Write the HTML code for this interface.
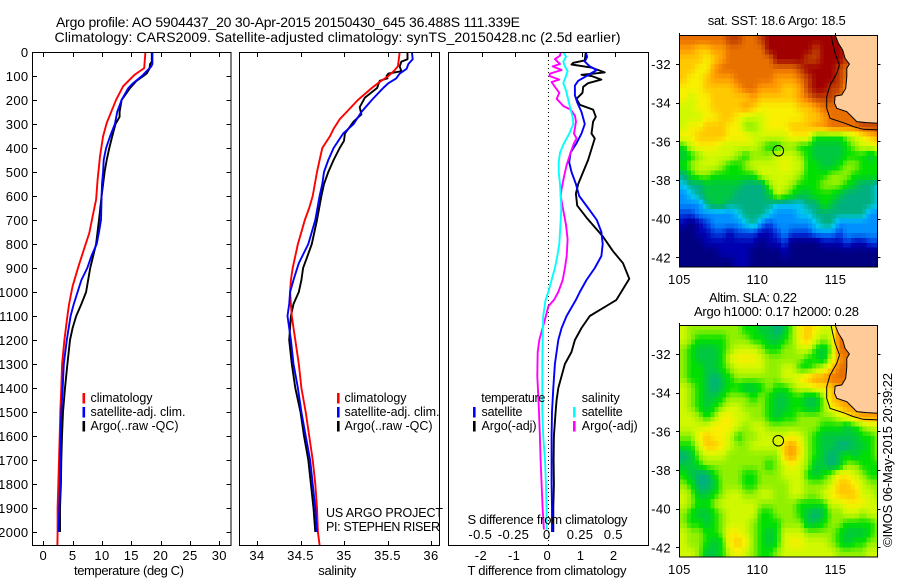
<!DOCTYPE html>
<html lang="en">
<head>
<meta charset="utf-8">
<title>Argo profile 5904437_20</title>
<style>
html,body{margin:0;padding:0;background:#fff;width:900px;height:580px;overflow:hidden}
svg{display:block}
text{font-family:"Liberation Sans",sans-serif;font-size:13px;fill:#000}
.l{font-size:12.5px}
.t{font-size:14px}
.n{letter-spacing:.35px}
</style>
</head>
<body>
<svg id="chart" xmlns="http://www.w3.org/2000/svg" width="900" height="580" viewBox="0 0 900 580">
<rect x="0" y="0" width="900" height="580" fill="#fff"/>
<defs>
<clipPath id="clip-p1"><rect x="32.5" y="52" width="199" height="493.5"/></clipPath>
<clipPath id="clip-p2"><rect x="239.5" y="52" width="200" height="493.5"/></clipPath>
<clipPath id="clip-p3"><rect x="448.5" y="52" width="200" height="493.5"/></clipPath>
<clipPath id="clip-m1"><rect x="679.5" y="35" width="198.5" height="232"/></clipPath>
<clipPath id="clip-m2"><rect x="679.5" y="325" width="198.5" height="232"/></clipPath>
</defs>
<text class="t" x="56" y="27" textLength="464">Argo profile: AO 5904437_20 30-Apr-2015 20150430_645 36.488S 111.339E</text>
<text class="t" x="54.5" y="42" textLength="566">Climatology: CARS2009. Satellite-adjusted climatology: synTS_20150428.nc (2.5d earlier)</text>

<g id="p1"></g>
<g id="p2"></g>
<g id="p3"></g>
<g id="m1"></g>
<g id="m2"></g>

<g>
<rect x="82.5" y="393" width="2.6" height="10.5" fill="#f00"/>
<text class="l" x="90.5" y="402" textLength="62">climatology</text>
<rect x="82.5" y="407" width="2.6" height="10.5" fill="#00f"/>
<text class="l" x="90.5" y="416" textLength="95">satellite-adj. clim.</text>
<rect x="82.5" y="421" width="2.6" height="10.5" fill="#000"/>
<text class="l" x="90.5" y="430" textLength="88">Argo(..raw -QC)</text>
</g>
<g>
<rect x="337" y="393" width="2.6" height="10.5" fill="#f00"/>
<text class="l" x="344.5" y="402" textLength="62">climatology</text>
<rect x="337" y="407" width="2.6" height="10.5" fill="#00f"/>
<text class="l" x="344.5" y="416" textLength="95">satellite-adj. clim.</text>
<rect x="337" y="421" width="2.6" height="10.5" fill="#000"/>
<text class="l" x="344.5" y="430" textLength="88">Argo(..raw -QC)</text>
</g>
<text class="l" x="326" y="517" textLength="117">US ARGO PROJECT</text>
<text class="l" x="326" y="531" textLength="114">PI: STEPHEN RISER</text>

<g>
<text class="l" x="481.3" y="402" textLength="64">temperature</text>
<rect x="473" y="407" width="2.6" height="10.5" fill="#00f"/>
<text class="l" x="481.5" y="416" textLength="41">satellite</text>
<rect x="473" y="421" width="2.6" height="10.5" fill="#000"/>
<text class="l" x="481.5" y="430" textLength="55">Argo(-adj)</text>
<text class="l" x="581.7" y="402" textLength="38">salinity</text>
<rect x="573" y="407" width="2.6" height="10.5" fill="#0ff"/>
<text class="l" x="581.7" y="416" textLength="41">satellite</text>
<rect x="573" y="421" width="2.6" height="10.5" fill="#f0f"/>
<text class="l" x="581.7" y="430" textLength="56">Argo(-adj)</text>
</g>

<text x="129" y="575" text-anchor="middle" textLength="110">temperature (deg C)</text>
<text x="337.3" y="575" text-anchor="middle" textLength="38">salinity</text>
<text x="547" y="575" text-anchor="middle" textLength="159">T difference from climatology</text>
<text x="467.5" y="524" textLength="160">S difference from climatology</text>

<text x="707.7" y="25" textLength="138">sat. SST: 18.6 Argo: 18.5</text>
<text x="709" y="302" textLength="88">Altim. SLA: 0.22</text>
<text x="694" y="316" textLength="165">Argo h1000: 0.17 h2000: 0.28</text>
<text transform="translate(892,547) rotate(-90)" textLength="174">©IMOS 06-May-2015 20:39:22</text>
</svg>

<script>
/* ---------- profile data ---------- */
const tClimDepth = [0,67,94,143,199,296,351,435,532,615,685,754,824,893,976,1050,1100,1200,1300,1400,1500,1600,1700,1800,1900,2000,2055];
const tClimValue = [17.4,17.2,15.6,13.6,12.4,10.8,10.2,9.66,9.26,9.0,8.4,7.84,6.9,6.0,5.0,4.4,4.1,3.6,3.2,3.07,2.9,2.8,2.67,2.56,2.44,2.44,2.4];
const tSatDepth = [0,50,60,80,100,130,150,200,250,300,350,400,450,500,550,600,700,750,800,850,900,950,1000,1050,1100,1200,1300,1400,1500,1600,1700,1800,1900,2000];
const tSatValue = [18.6,18.6,18.4,17.6,16.8,15.3,14.5,13.35,12.6,12.2,11.4,10.7,10.3,10.2,10,9.94,9.83,9.5,9.1,8.2,7.5,6.5,5.85,5.2,4.66,4,3.5,3.3,3.07,2.95,2.9,2.84,2.73,2.6];
const tArgoDepth = [0,40,50,70,90,120,150,200,250,270,300,350,400,450,500,550,600,700,800,900,1000,1050,1100,1150,1200,1300,1400,1500,1600,1700,1800,1900,2000];
const tArgoValue = [18.5,18.5,18.2,18.1,17.6,15.9,14.8,13.35,13,13,12.3,11.76,11.25,10.8,10.45,10.2,9.94,9.5,9,8,7.3,6.5,5.6,5,4.55,4.1,3.7,3.35,3.18,3.07,3,2.84,2.84];

const sClimDepth = [0,30,60,80,100,130,150,200,250,280,320,350,400,450,500,600,650,700,750,800,850,900,950,1000,1050,1100,1150,1200,1300,1400,1500,1600,1700,1800,1900,2000,2055];
const sClimValue = [35.64,35.63,35.62,35.57,35.51,35.39,35.32,35.16,35.03,34.95,34.88,34.84,34.75,34.72,34.69,34.64,34.6,34.55,34.51,34.47,34.44,34.41,34.39,34.38,34.39,34.4,34.42,34.44,34.48,34.51,34.56,34.6,34.64,34.67,34.69,34.7,34.72];
const sSatDepth = [0,30,50,70,90,110,130,150,200,250,300,340,400,450,500,550,600,700,800,880,950,1000,1050,1100,1150,1200,1300,1400,1500,1600,1700,1800,1900,2000];
const sSatValue = [35.78,35.79,35.74,35.72,35.64,35.6,35.51,35.45,35.32,35.2,35.11,34.99,34.88,34.82,34.77,34.75,34.72,34.67,34.59,34.48,34.42,34.38,34.37,34.35,34.37,34.39,34.42,34.47,34.51,34.56,34.61,34.64,34.67,34.69];
const sArgoDepth = [0,30,40,60,80,90,100,110,120,150,190,230,260,290,340,370,400,450,500,550,600,700,800,850,900,950,1000,1050,1100,1200,1300,1400,1500,1600,1700,1800,1900,2000];
const sArgoValue = [35.73,35.73,35.66,35.64,35.66,35.51,35.49,35.5,35.41,35.38,35.24,35.18,35.2,35.11,35.01,35,34.95,34.88,34.82,34.77,34.74,34.69,34.63,34.58,34.53,34.51,34.48,34.42,34.39,34.37,34.4,34.44,34.5,34.54,34.59,34.62,34.65,34.67];

const dtSatDepth = [0,20,40,60,75,100,120,140,180,210,250,300,340,380,420,460,500,550,600,650,700,750,800,850,900,950,1000,1033,1100,1150,1200,1300,1400,1500,1600,1700,1800,1900,2000];
const dtSatValue = [1.13,1.17,1.1,1.25,1.46,1.15,0.9,0.8,0.8,0.87,1.0,1.1,1.0,0.85,0.67,0.63,0.7,0.83,0.93,1.2,1.46,1.6,1.64,1.6,1.4,1.15,0.95,0.83,0.55,0.4,0.3,0.2,0.15,0.11,0.1,0.1,0.1,0.11,0.11];
const dtArgoDepth = [0,35,45,52,65,85,95,100,115,130,145,170,195,220,240,270,290,340,360,450,550,590,640,690,770,830,880,945,1033,1050,1100,1150,1200,1250,1300,1350,1400,1450,1500,1600,1700,1800,1900,2000];
const dtArgoValue = [1.13,1.1,0.75,0.7,1.3,1.7,1.0,1.3,1.6,1.2,1.05,1.03,0.85,0.95,1.35,1.43,1.35,1.3,1.4,1.2,0.9,0.83,0.87,1.15,1.65,1.95,2.25,2.44,2.05,1.85,1.25,1.0,0.8,0.7,0.5,0.4,0.3,0.25,0.22,0.17,0.16,0.17,0.15,0.15];
const dsSatDepth = [0,20,40,60,80,100,130,160,200,240,270,300,340,380,420,460,500,550,600,650,700,800,850,900,950,1000,1033,1100,1200,1300,1400,1500,1600,1700,1800,1900,1990];
const dsSatValue = [0.113,0.133,0.113,0.125,0.145,0.133,0.113,0.133,0.15,0.168,0.183,0.188,0.158,0.118,0.088,0.078,0.078,0.088,0.093,0.098,0.093,0.083,0.068,0.05,0.025,0,-0.02,-0.038,-0.043,-0.045,-0.045,-0.045,-0.038,-0.025,-0.018,-0.013,-0.013];
const dsArgoDepth = [0,15,30,50,60,75,90,100,115,125,145,170,195,225,240,265,290,340,360,380,420,470,520,570,600,660,720,780,850,900,950,1000,1033,1060,1100,1200,1250,1350,1400,1500,1600,1700,1800,1900,1990];
const dsArgoValue = [0.093,0.088,0.05,0.088,0.033,0.1,0.013,0.008,0.083,0.025,0.05,0.083,0.063,0.113,0.168,0.2,0.208,0.193,0.213,0.193,0.168,0.138,0.118,0.1,0.093,0.113,0.133,0.145,0.138,0.125,0.108,0.075,0.043,0,-0.018,-0.068,-0.08,-0.083,-0.078,-0.07,-0.063,-0.058,-0.05,-0.043,-0.033];

/* ---------- tick labels ---------- */
const depthTicks = [0,100,200,300,400,500,600,700,800,900,1000,1100,1200,1300,1400,1500,1600,1700,1800,1900,2000];
const tempTicks = [0,5,10,15,20,25,30];
const salTicks = [34,34.5,35,35.5,36];
const dtTicks = [-2,-1,0,1,2];
const dsTicks = [-0.5,-0.25,0,0.25,0.5];
const lonTicks = [105,110,115];
const latTicks = [-32,-34,-36,-38,-40,-42];

/* ---------- map data (levels on the colour scale, 0.5 degree cells) ---------- */
const scaleColors = ['#000080','#0000b0','#0040e0','#0090ff','#00c8f0','#00b080','#00c840','#00e000','#90f000','#d0f800','#f8f000','#ffc800','#ff9c00','#e87000','#c04000','#a00000'];
const sstGrid = [
[13,13,13,13,13,13,14,14,13,13,14,15,15,15,15,15,15,15,15,15,15,14],
[12,12,11,11,12,12,13,13,13,13,13,15,15,15,15,15,15,14,15,15,15,14],
[11,11,11,10,11,12,13,13,13,13,13,13,15,15,15,15,14,14,15,15,15,14],
[11,11,10,10,12,13,13,13,13,13,13,13,13,13,13,14,15,15,15,15,14,13],
[11,10,10,11,12,12,12,13,13,13,13,13,12,12,12,13,14,15,15,15,14,13],
[10,10,10,11,11,11,11,12,13,13,12,12,12,11,11,12,14,15,15,14,14,12,11],
[10,9,10,10,11,11,11,11,11,12,11,11,11,11,11,12,13,14,14,14,13,12,12],
[9,9,10,10,11,11,11,11,12,11,10,10,10,10,10,11,11,12,13,13,13,13,13,13,13,13],
[9,9,9,10,10,11,11,10,9,9,9,10,10,10,10,10,11,11,12,13,13,13,13,13,13,13],
[9,10,10,11,11,11,10,10,8,8,9,10,10,10,11,11,11,12,12,13,13,13,13,14,14,14],
[10,10,11,11,11,11,10,10,10,9,9,9,9,9,10,10,10,7,7,7,7,8,9,10,11,12],
[7,9,10,10,10,9,9,9,9,9,8,7,7,8,8,7,7,6,6,6,6,7,8,9,9,10],
[6,7,8,9,9,9,9,8,7,8,8,8,9,9,9,8,7,6,6,6,6,7,7,7,6,7],
[7,8,9,9,9,8,7,7,8,9,9,9,9,10,9,9,7,7,6,6,7,8,8,7,7,7],
[5,7,8,8,7,7,7,7,7,7,9,9,9,9,9,8,7,7,7,8,8,8,7,7,7,7],
[4,5,5,6,6,6,6,6,5,5,5,8,9,9,8,7,7,7,8,8,8,7,6,5,5,4],
[3,4,5,6,6,6,6,5,5,5,5,6,9,8,7,6,6,7,7,7,6,5,5,5,5,4],
[3,3,3,5,6,6,5,5,5,5,5,5,4,4,4,4,5,5,7,6,5,5,5,5,5,4],
[2,2,3,3,3,3,3,4,5,5,5,4,3,3,3,4,4,5,5,5,5,5,5,5,3,3],
[1,0,1,2,3,3,3,3,4,5,3,2,3,3,3,3,3,4,5,5,3,3,3,3,3,3],
[0,0,1,1,2,2,1,2,2,2,1,1,2,3,2,2,2,3,3,3,2,3,3,3,3,3],
[0,0,0,1,1,1,1,1,1,1,0,1,1,2,0,0,0,0,1,1,1,2,1,1,2,2],
[0,0,0,0,0,1,1,1,1,0,0,0,0,1,0,0,0,0,0,0,0,0,0,0,0,0],
[0,0,0,0,0,0,0,1,1,0,0,0,0,0,0,0,0,0,0,0,0,0,0,0,0,0]
];
const slaGrid = [
[9,8,8,8,8,8,8,8,7,7,6,6,5,6,8,10,11,10,9,9,13,13,13],
[9,8,7,7,7,7,8,8,8,7,7,6,6,7,8,10,11,9,8,9,13,13,13],
[8,7,6,6,6,7,8,9,9,9,8,7,7,8,8,9,9,7,6,8,13,13,13],
[8,7,6,6,6,7,9,10,10,10,9,8,8,8,8,8,7,7,6,9,12,13,13],
[8,7,7,6,6,7,8,9,9,9,9,8,8,9,9,7,7,8,9,11,13,13,13],
[8,7,7,6,5,6,7,8,8,8,8,8,8,9,9,10,11,12,12,13,13,13,13],
[9,8,7,6,5,6,7,7,6,6,7,8,7,7,8,9,9,10,10,11,12,12,12],
[9,8,7,6,6,7,8,8,8,7,8,7,6,6,7,7,6,6,8,11,12,12,12,12],
[9,8,7,6,7,8,9,9,8,8,8,7,6,6,7,7,6,6,8,10,11,12,12,12,12,12],
[9,9,8,7,8,10,10,9,9,8,8,7,6,7,7,8,8,8,8,8,9,10,11,12,12,12],
[9,9,9,9,10,10,10,9,8,9,9,8,8,8,8,8,8,8,7,7,7,6,7,8,9,9],
[8,8,10,11,10,10,9,7,8,8,9,9,9,9,10,9,8,7,6,6,6,6,6,7,7,8],
[7,7,9,11,11,10,9,8,8,9,9,9,9,11,12,10,8,7,6,6,5,5,6,6,7,8],
[5,6,8,9,9,9,8,8,8,8,8,8,8,11,12,10,8,7,6,5,6,7,6,7,7,8],
[6,6,7,8,8,8,8,8,8,8,8,7,8,9,10,9,8,6,6,5,6,8,8,7,7,7],
[7,6,5,5,7,8,8,8,7,7,8,8,8,9,9,9,7,6,7,8,10,10,9,8,7,7],
[8,7,5,5,6,8,8,8,7,7,8,8,8,8,9,9,8,8,8,9,11,11,10,9,8,8],
[9,8,6,6,7,8,9,9,8,8,9,9,8,8,9,9,8,8,9,10,11,11,11,9,9,8],
[9,8,7,7,8,9,9,9,9,9,8,8,8,8,8,7,7,7,7,9,9,10,10,10,9,9],
[8,7,6,6,7,8,9,9,9,9,7,7,8,8,8,7,6,5,6,8,8,9,9,8,9,9],
[8,7,7,6,7,8,9,9,9,8,7,7,7,8,8,8,6,6,7,8,8,7,7,7,7,8],
[9,8,8,7,7,8,10,10,9,8,7,6,7,9,9,9,8,8,8,8,7,6,6,6,7,8],
[9,8,8,7,6,7,10,11,10,8,7,6,7,9,10,10,9,9,9,8,7,6,7,7,8,8],
[9,9,8,6,6,7,9,10,9,8,7,7,8,9,9,9,9,9,9,9,8,8,8,8,9,9]
];
const landLon = [114.98,115.19,115.47,115.62,115.9,115.73,115.73,115.66,115.41,114.98,114.94,115.09,115.73,116.05,116.37,117.0,117.8,117.8,114.98];
const landLat = [-30.5,-30.93,-31.28,-31.71,-32,-32.22,-32.66,-33.26,-33.6,-33.66,-34.03,-34.29,-34.47,-34.72,-34.98,-35.03,-35.07,-30.5,-30.5];
const contourLon = [114.72,114.83,114.98,115.26,115.09,114.66,114.44,114.44,114.66,115.62,116.15,116.79,117.8];
const contourLat = [-30.5,-30.93,-31.45,-32.05,-32.48,-33.09,-33.69,-34.29,-34.81,-35.07,-35.24,-35.38,-35.41];
const floatLon = 111.339;
const floatLat = -36.488;

/* ---------- axis functions ---------- */
const NS = 'http://www.w3.org/2000/svg';
const yDepth = d => 52 + d * 0.24;
const xTemp = v => 43.3 + v * 5.867;
const xSal = v => 257 + (v - 34) * 87;
const xDT = v => 548.3 + v * 33.2;
const xDS = v => 548.3 + v * 133;
const xLon = v => 679.4 + (v - 105) * 15.6;
const yLat = (v, top) => top + (-30.5 - v) * 19.33;

function el(parent, tag, attrs, txt) {
  const n = document.createElementNS(NS, tag);
  for (const k in attrs) n.setAttribute(k, attrs[k]);
  if (txt !== undefined) n.textContent = txt;
  parent.appendChild(n);
  return n;
}
function tickLine(parent, x1, y1, x2, y2) {
  const n = el(parent, 'line', {x1, y1, x2, y2, stroke: '#000', 'stroke-width': 1, 'shape-rendering': 'crispEdges'});
  
  
}
function tickText(parent, x, y, anchor, s) {
  const n = el(parent, 'text', {x, y, 'text-anchor': anchor, class: 'n'}, s);
  
  
}
function frame(parent, x, y, w, h) {
  const n = el(parent, 'rect', {x, y, width: w, height: h, fill: 'none', stroke: '#000', 'stroke-width': 1, 'shape-rendering': 'crispEdges'});
  
  
}
function profile(parent, xf, depth, vals, color, name, clip) {
  const pts = depth.map((d, i) => xf(vals[i]).toFixed(1) + ',' + yDepth(d).toFixed(1)).join(' ');
  const n = el(parent, 'polyline', {points: pts, fill: 'none', stroke: color, 'stroke-width': 1.9, 'stroke-linejoin': 'round', 'clip-path': 'url(#' + clip + ')'});
  
  
}

/* ---------- panels ---------- */
const p1 = document.getElementById('p1');
const p2 = document.getElementById('p2');
const p3 = document.getElementById('p3');

profile(p1, xTemp, tArgoDepth, tArgoValue, '#000', 'argo-temperature-line', 'clip-p1');
profile(p1, xTemp, tClimDepth, tClimValue, '#f00', 'climatology-temperature-line', 'clip-p1');
profile(p1, xTemp, tSatDepth, tSatValue, '#00f', 'satellite-temperature-line', 'clip-p1');
frame(p1, 32.5, 52.5, 198.5, 493);
depthTicks.forEach(d => {
  tickLine(p1, 32.5, Math.round(yDepth(d)) + .5, 37, Math.round(yDepth(d)) + .5);
  tickLine(p1, 226.5, Math.round(yDepth(d)) + .5, 231, Math.round(yDepth(d)) + .5);
  tickText(p1, 28.5, yDepth(d) + 5, 'end', String(d));
});
tempTicks.forEach(v => {
  const x = Math.round(xTemp(v)) + .5;
  tickLine(p1, x, 52.5, x, 57);
  tickLine(p1, x, 541, x, 545.5);
  tickText(p1, xTemp(v), 560, 'middle', String(v));
});

profile(p2, xSal, sArgoDepth, sArgoValue, '#000', 'argo-salinity-line', 'clip-p2');
profile(p2, xSal, sClimDepth, sClimValue, '#f00', 'climatology-salinity-line', 'clip-p2');
profile(p2, xSal, sSatDepth, sSatValue, '#00f', 'satellite-salinity-line', 'clip-p2');
frame(p2, 239.5, 52.5, 200, 493);
salTicks.forEach(v => {
  const x = Math.round(xSal(v)) + .5;
  tickLine(p2, x, 52.5, x, 57);
  tickLine(p2, x, 541, x, 545.5);
  tickText(p2, xSal(v), 560, 'middle', String(v));
});

const zeroLine = el(p3, 'line', {x1: 548.5, y1: 52, x2: 548.5, y2: 545, stroke: '#000', 'stroke-width': 1, 'stroke-dasharray': '1 3', 'shape-rendering': 'crispEdges'});


profile(p3, xDT, dtArgoDepth, dtArgoValue, '#000', 'argo-t-difference-line', 'clip-p3');
profile(p3, xDT, dtSatDepth, dtSatValue, '#00f', 'satellite-t-difference-line', 'clip-p3');
profile(p3, xDS, dsArgoDepth, dsArgoValue, '#f0f', 'argo-s-difference-line', 'clip-p3');
profile(p3, xDS, dsSatDepth, dsSatValue, '#0ff', 'satellite-s-difference-line', 'clip-p3');
frame(p3, 448.5, 52.5, 200, 493);
dtTicks.forEach(v => {
  const x = Math.round(xDT(v)) + .5;
  tickLine(p3, x, 52.5, x, 57);
  tickText(p3, xDT(v) - 1, 560, 'middle', v < 0 ? '-' + Math.abs(v) : String(v));
});
dsTicks.forEach(v => {
  tickText(p3, xDS(v) - 1.5, 539, 'middle', v < 0 ? '-' + Math.abs(v) : String(v));
});

/* ---------- maps ---------- */
function colorAt(level) {
  const l = Math.max(0, Math.min(scaleColors.length - 1, level));
  const i = Math.min(scaleColors.length - 2, Math.floor(l));
  const f = l - i;
  const a = scaleColors[i], b = scaleColors[i + 1];
  const ch = s => [1, 3, 5].map(p => parseInt(s.substr(p, 2), 16));
  const ca = ch(a), cb = ch(b);
  return 'rgb(' + ca.map((c, k) => Math.round(c + (cb[k] - c) * f)).join(',') + ')';
}
function gridValue(grid, r, c) {
  const rr = Math.max(0, Math.min(grid.length - 1, r));
  const row = grid[rr];
  return row[Math.max(0, Math.min(row.length - 1, c))];
}
function smoothValue(grid, lon, lat) {
  const c = (lon - 105) / 0.5 - 0.5;
  const r = (-30.5 - lat) / 0.5 - 0.5;
  const c0 = Math.floor(c), r0 = Math.floor(r);
  const fc = c - c0, fr = r - r0;
  return gridValue(grid, r0, c0) * (1 - fc) * (1 - fr) + gridValue(grid, r0, c0 + 1) * fc * (1 - fr) +
         gridValue(grid, r0 + 1, c0) * (1 - fc) * fr + gridValue(grid, r0 + 1, c0 + 1) * fc * fr;
}
function drawMap(id, grid, top, clip, cellName) {
  const g = document.getElementById(id);
  const cells = el(g, 'g', {'clip-path': 'url(#' + clip + ')', 'shape-rendering': 'crispEdges'});
  
  
  const step = 0.25;
  for (let lat = -30.5; lat > -42.5; lat -= step) {
    for (let lon = 105; lon < 118; lon += step) {
      const v = smoothValue(grid, lon + step / 2, lat - step / 2);
      const cell = el(cells, 'rect', {
        x: xLon(lon).toFixed(2), y: yLat(lat, top).toFixed(2),
        width: (step * 15.6 + .4).toFixed(2), height: (step * 19.33 + .4).toFixed(2),
        fill: colorAt(v)
      });
      
      
    }
  }
  const clipG = el(g, 'g', {'clip-path': 'url(#' + clip + ')'});
  
  
  const land = el(clipG, 'polygon', {
    points: landLon.map((v, i) => xLon(v).toFixed(1) + ',' + yLat(landLat[i], top).toFixed(1)).join(' '),
    fill: '#ffcc99', stroke: '#000', 'stroke-width': 1
  });
  
  
  const cont = el(clipG, 'polyline', {
    points: contourLon.map((v, i) => xLon(v).toFixed(1) + ',' + yLat(contourLat[i], top).toFixed(1)).join(' '),
    fill: 'none', stroke: '#000', 'stroke-width': 1
  });
  
  
  const mark = el(g, 'circle', {cx: xLon(floatLon), cy: yLat(floatLat, top), r: 5.3, fill: 'none', stroke: '#000', 'stroke-width': 1});
  
  
  const bottom = top + 232;
  frame(g, 679.5, top + .5, 198, 231.5);
  lonTicks.forEach(v => {
    const x = Math.round(xLon(v)) + .5;
    tickLine(g, x, top - 2, x, top);
    tickText(g, xLon(v), bottom + 17, 'middle', String(v));
  });
  latTicks.forEach(v => {
    const y = Math.round(yLat(v, top)) + .5;
    tickLine(g, 676, y, 679.5, y);
    tickLine(g, 878, y, 880.5, y);
    tickText(g, 671, yLat(v, top) + 5, 'end', String(v));
  });
}
drawMap('m1', sstGrid, 35, 'clip-m1', 'sst-cell');
drawMap('m2', slaGrid, 325, 'clip-m2', 'sla-cell');
</script>
</body>
</html>
